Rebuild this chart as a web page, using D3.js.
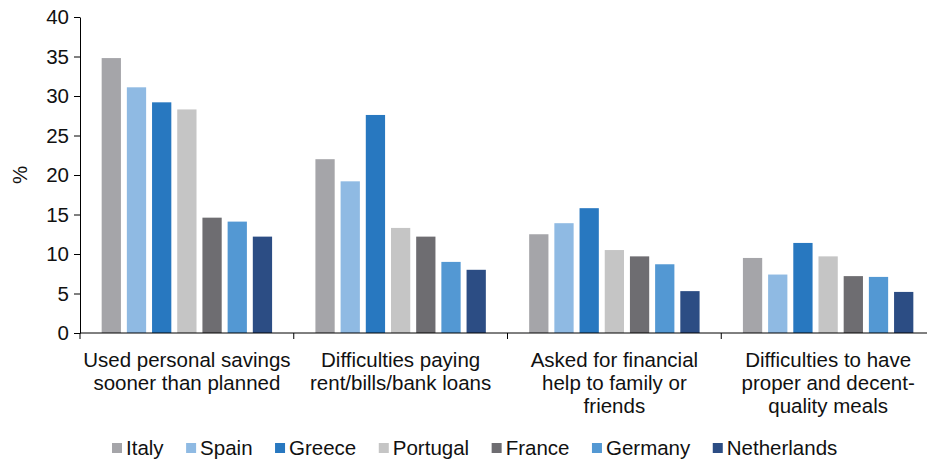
<!DOCTYPE html>
<html>
<head>
<meta charset="utf-8">
<script src="https://cdn.jsdelivr.net/npm/d3@7"></script>
<style>
  body { margin: 0; background: #fff; }
  text { font-family: "Liberation Sans", Arial, sans-serif; fill: #111; }
</style>
</head>
<body>
<div id="chart"></div>
<script>
// categories and series
const categories = [
  ["Used personal savings", "sooner than planned"],
  ["Difficulties paying", "rent/bills/bank loans"],
  ["Asked for financial", "help to family or", "friends"],
  ["Difficulties to have", "proper and decent-", "quality meals"]
];
const countries = ["Italy", "Spain", "Greece", "Portugal", "France", "Germany", "Netherlands"];
const colors = ["#a5a5a9", "#8fbae3", "#2878c0", "#c5c5c5", "#6e6d71", "#5398d3", "#2c4d84"];

const italy       = [34.8, 22.0, 12.5, 9.5];
const spain       = [31.1, 19.2, 13.9, 7.4];
const greece      = [29.2, 27.6, 15.8, 11.4];
const portugal    = [28.3, 13.3, 10.5, 9.7];
const france      = [14.6, 12.2, 9.7, 7.2];
const germany     = [14.1, 9.0, 8.7, 7.1];
const netherlands = [12.2, 8.0, 5.3, 5.2];

const yTicks = [0, 5, 10, 15, 20, 25, 30, 35, 40];

const series = [italy, spain, greece, portugal, france, germany, netherlands];

const W = 927, H = 461;
const m = {left: 80, top: 17, right: -8, bottom: 128};
const width = W - m.left - m.right, height = H - m.top - m.bottom;
const fs = "20.5px";

const svg = d3.select("#chart").append("svg")
    .attr("width", W).attr("height", H);

const g = svg.append("g").attr("transform", "translate(" + m.left + "," + m.top + ")");

const x0 = d3.scaleBand().domain(d3.range(categories.length)).range([0, width]).padding(0);
const x1 = d3.scaleBand().domain(countries).range([0, x0.bandwidth()])
    .paddingInner(0.235).paddingOuter(0.86);
const y = d3.scaleLinear().domain([0, 40]).range([height, 0]);

// bars
const rows = [];
categories.forEach((c, i) => {
  countries.forEach((k, j) => rows.push({cat: i, country: k, j: j, v: series[j][i]}));
});

g.selectAll(".bar").data(rows).enter().append("rect")
    .attr("class", "bar")
    .attr("x", d => x0(d.cat) + x1(d.country))
    .attr("y", d => y(d.v))
    .attr("width", x1.bandwidth())
    .attr("height", d => height - y(d.v))
    .attr("fill", d => colors[d.j]);

// y axis
const yAxis = g.append("g")
    .call(d3.axisLeft(y).tickValues(yTicks).tickSize(6).tickPadding(5).tickSizeOuter(0));
yAxis.select(".domain").attr("stroke", "#000");
yAxis.selectAll(".tick line").attr("stroke", "#000");
yAxis.selectAll("text").style("font-size", fs).attr("fill", "#111");

// x axis
const xAxis = g.append("g").attr("transform", "translate(0," + height + ")");
xAxis.append("line").attr("x1", 0).attr("x2", width).attr("stroke", "#000");
d3.range(categories.length + 1).forEach(i => {
  const xx = i < categories.length ? x0(i) : width;
  xAxis.append("line").attr("x1", xx).attr("x2", xx).attr("y1", 0).attr("y2", 6).attr("stroke", "#000");
});

categories.forEach((lines, i) => {
  const t = xAxis.append("text")
      .attr("text-anchor", "middle")
      .attr("transform", "translate(" + (x0(i) + x0.bandwidth() / 2) + ",33.5)")
      .style("font-size", fs);
  lines.forEach((l, k) => {
    t.append("tspan").attr("x", 0).attr("y", k * 23).text(l);
  });
});

// y label
svg.append("text")
    .attr("transform", "translate(27," + (m.top + height / 2) + ") rotate(-90)")
    .attr("text-anchor", "middle")
    .style("font-size", fs)
    .text("%");

// legend
const legend = svg.append("g").attr("transform", "translate(112,455)");
let lx = 0;
countries.forEach((c, j) => {
  const it = legend.append("g").attr("transform", "translate(" + lx + ",0)");
  it.append("rect").attr("x", 0).attr("y", -12).attr("width", 10).attr("height", 10).attr("fill", colors[j]);
  const tx = it.append("text").attr("x", 14).style("font-size", fs).text(c);
  lx += 14 + tx.node().getComputedTextLength() + 22.5;
});
</script>
</body>
</html>
